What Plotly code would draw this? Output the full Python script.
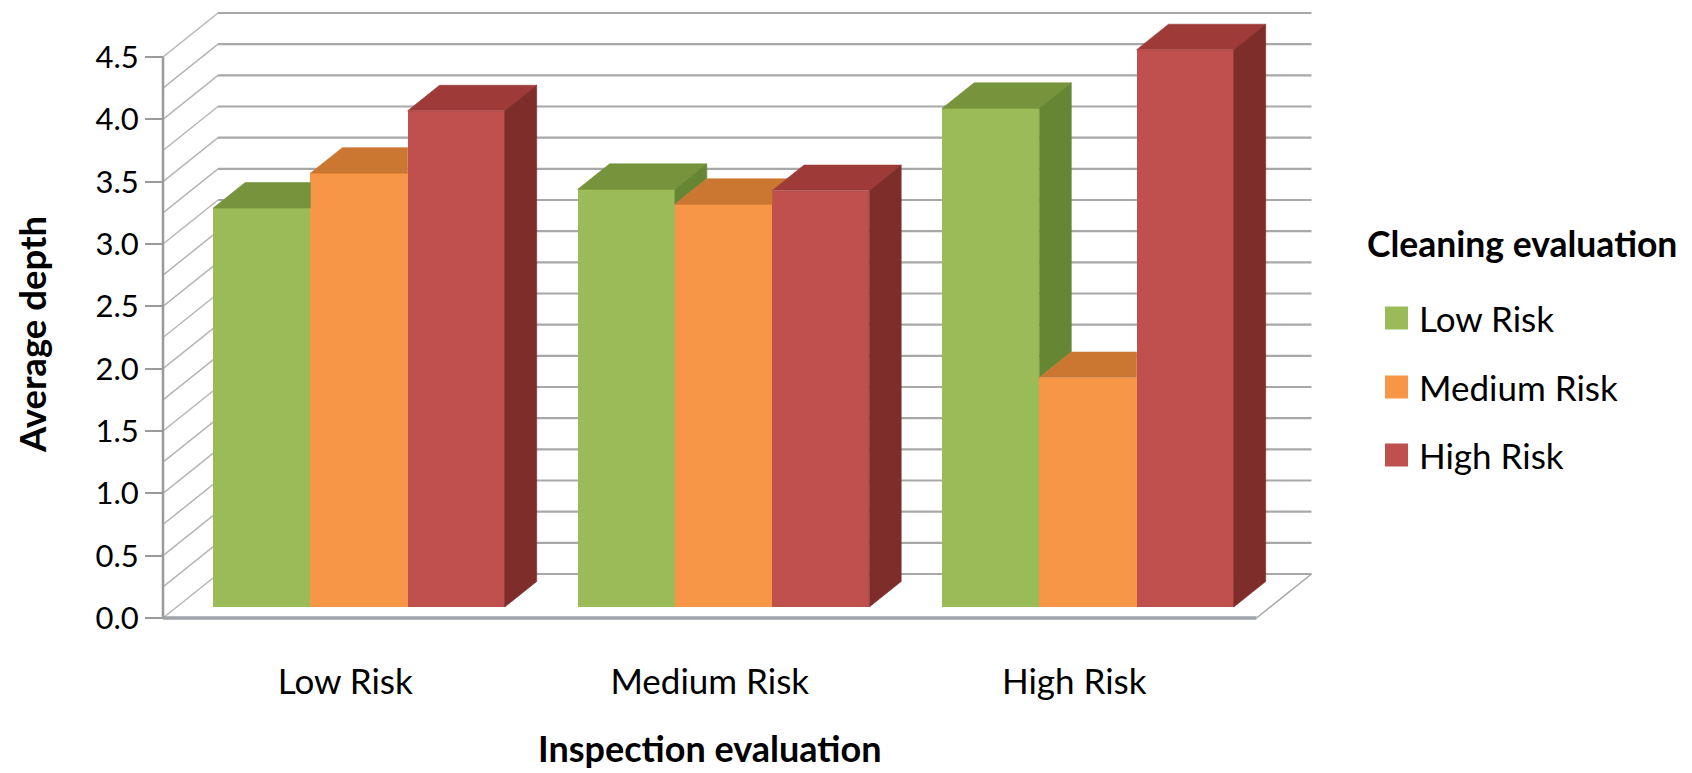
import plotly.graph_objects as go

# ---- data -------------------------------------------------------------
categories = ["Low Risk", "Medium Risk", "High Risk"]          # inspection evaluation
series_names = ["Low Risk", "Medium Risk", "High Risk"]        # cleaning evaluation
low_risk = [3.20, 3.35, 4.00]
medium_risk = [3.48, 3.23, 1.84]
high_risk = [3.98, 3.34, 4.47]
y_tick_values = [0.0, 0.5, 1.0, 1.5, 2.0, 2.5, 3.0, 3.5, 4.0, 4.5]
y_tick_labels = ["0.0", "0.5", "1.0", "1.5", "2.0", "2.5", "3.0", "3.5", "4.0", "4.5"]

series_values = [low_risk, medium_risk, high_risk]

# ---- styling ----------------------------------------------------------
FONT = "Lato, 'Open Sans', sans-serif"
front_colors = ["#9BBB59", "#F79646", "#C0504D"]
top_colors = ["#77933C", "#CB7631", "#9E3B39"]
side_colors = ["#678634", "#B5652A", "#7E2D2B"]
GRID_COLOR = "#A8A8A8"

# figure geometry (pixels)
W, H = 1692, 773
PLOT_L, PLOT_R, PLOT_T, PLOT_B = 150, 1320, 10, 660
AXIS_PX = 163            # front-left corner of the floor
FLOOR_PX = 618           # front edge of the floor (value 0)
PX_PER_CAT = 364.5
PX_PER_VAL = 124.67

# oblique 3-D projection, expressed in axis units
DEPTH_X = 55 / PX_PER_CAT          # full depth of the box, horizontal shift
DEPTH_Y = 44 / PX_PER_VAL          # full depth of the box, vertical shift
BAR_FRONT, BAR_BACK = 0.25, 0.83   # where the columns sit inside the depth
BAR_W = 0.8 / 3                    # three touching columns per category
GRID_STEP = 0.25
Y_MAX = 4.5

x_range = [(PLOT_L - AXIS_PX) / PX_PER_CAT, (PLOT_R - AXIS_PX) / PX_PER_CAT]
y_range = [-(PLOT_B - FLOOR_PX) / PX_PER_VAL, (FLOOR_PX - PLOT_T) / PX_PER_VAL]

fig = go.Figure()

# ---- walls and floor (drawn beneath the columns) -------------------------
shapes = []
n_grid = int(round(Y_MAX / GRID_STEP))
for k in range(n_grid + 1):
    v = k * GRID_STEP
    # back wall gridline
    shapes.append(dict(type="line", layer="below", xref="x", yref="y",
                       x0=DEPTH_X, y0=v + DEPTH_Y, x1=len(categories) + DEPTH_X, y1=v + DEPTH_Y,
                       line=dict(color=GRID_COLOR, width=2.2)))
    # side wall gridline
    shapes.append(dict(type="line", layer="below", xref="x", yref="y",
                       x0=0, y0=v, x1=DEPTH_X, y1=v + DEPTH_Y,
                       line=dict(color="#B4B4B4", width=1.5)))
# floor front edge and right edge
shapes.append(dict(type="line", layer="below", xref="x", yref="y",
                   x0=0, y0=0, x1=len(categories), y1=0,
                   line=dict(color="#9FA4AA", width=3.5)))
shapes.append(dict(type="line", layer="below", xref="x", yref="y",
                   x0=len(categories), y0=0, x1=len(categories) + DEPTH_X, y1=DEPTH_Y,
                   line=dict(color="#A8A8A8", width=1.6)))
# value axis line
shapes.append(dict(type="line", layer="below", xref="x", yref="y",
                   x0=0, y0=0, x1=0, y1=Y_MAX,
                   line=dict(color="#9A9A9A", width=2.5)))

# ---- columns ---------------------------------------------------------
ddx = (BAR_BACK - BAR_FRONT) * DEPTH_X
ddy = (BAR_BACK - BAR_FRONT) * DEPTH_Y
base = BAR_FRONT * DEPTH_Y
shift = BAR_FRONT * DEPTH_X


def bar_center(ci, si):
    return ci + 0.5 + (si - 1) * BAR_W + shift


# front faces
for si, (name, vals) in enumerate(zip(series_names, series_values)):
    fig.add_trace(go.Bar(
        x=[bar_center(ci, si) for ci in range(len(categories))],
        y=vals, base=[base] * len(vals), width=BAR_W,
        name=name, marker=dict(color=front_colors[si], line=dict(width=0)),
        showlegend=False, hovertemplate=name + ": %{y:.2f}<extra></extra>",
    ))


def poly(xs, ys, color):
    fig.add_trace(go.Scatter(
        x=xs + [xs[0]], y=ys + [ys[0]], mode="lines", fill="toself",
        fillcolor=color, line=dict(color=color, width=0.6),
        hoverinfo="skip", showlegend=False,
    ))


# top and side faces, trimmed where the neighbouring column hides them
for ci in range(len(categories)):
    for si in range(len(series_names)):
        v = series_values[si][ci]
        xc = bar_center(ci, si)
        L, R = xc - BAR_W / 2, xc + BAR_W / 2
        yb, yt = base, base + v
        nxt = series_values[si + 1][ci] if si + 1 < len(series_names) else None

        # top face
        if nxt is None or nxt <= v:
            poly([L, R, R + ddx, L + ddx], [yt, yt, yt + ddy, yt + ddy], top_colors[si])
        else:
            yc = min(base + nxt, yt + ddy)
            t = (yt + ddy - yc) / ddy
            poly([L, R, R, R + ddx * t, L + ddx],
                 [yt, yt, yc, yt + ddy, yt + ddy], top_colors[si])

        # right-hand side face
        if nxt is None:
            poly([R, R, R + ddx, R + ddx], [yb, yt, yt + ddy, yb + ddy], side_colors[si])
        elif v > nxt:
            yn = base + nxt
            poly([R, R, R + ddx, R + ddx], [yn, yt, yt + ddy, yn + ddy], side_colors[si])


# ---- titles and legend -------------------------------------------------
def paper_x(px):
    return (px - PLOT_L) / (PLOT_R - PLOT_L)


def paper_y(py):
    return (PLOT_B - py) / (PLOT_B - PLOT_T)


annotations = [
    dict(text="Inspection evaluation", xref="x", yref="paper",
         x=len(categories) / 2, y=paper_y(748), xanchor="center", yanchor="middle",
         showarrow=False, font=dict(family=FONT, size=36, color="#000000", weight="bold")),
    dict(text="Average depth", xref="paper", yref="paper", textangle=-90,
         x=paper_x(32), y=paper_y(335), xanchor="center", yanchor="middle",
         showarrow=False, font=dict(family=FONT, size=36.5, color="#000000", weight="bold")),
    dict(text="Cleaning evaluation", xref="paper", yref="paper",
         x=paper_x(1365), y=paper_y(243), xanchor="left", yanchor="middle",
         showarrow=False, font=dict(family=FONT, size=35.5, color="#000000", weight="bold")),
]
legend_rows = [318, 387, 455]
for si, name in enumerate(series_names):
    cy = legend_rows[si]
    shapes.append(dict(type="rect", xref="paper", yref="paper",
                       x0=paper_x(1385), x1=paper_x(1408),
                       y0=paper_y(cy + 11.5), y1=paper_y(cy - 11.5),
                       fillcolor=front_colors[si], line=dict(width=0)))
    annotations.append(dict(
        text=name, xref="paper", yref="paper",
        x=paper_x(1417), y=paper_y(cy), xanchor="left", yanchor="middle",
        showarrow=False, font=dict(family=FONT, size=35, color="#000000"),
    ))

fig.update_layout(
    width=W, height=H,
    margin=dict(l=PLOT_L, r=W - PLOT_R, t=PLOT_T, b=H - PLOT_B, autoexpand=False),
    paper_bgcolor="white", plot_bgcolor="white",
    barmode="overlay", bargap=0,
    shapes=shapes, annotations=annotations,
    font=dict(family=FONT, color="#000000"),
    xaxis=dict(
        range=x_range, tickvals=[i + 0.5 for i in range(len(categories))],
        ticktext=categories, showgrid=False, zeroline=False, showline=False,
        ticks="", tickfont=dict(family=FONT, size=35, color="#000000"),
        ticklabelstandoff=-2,
        fixedrange=True,
    ),
    yaxis=dict(
        range=y_range, anchor="free", position=paper_x(AXIS_PX),
        tickvals=y_tick_values, ticktext=y_tick_labels,
        showgrid=False, zeroline=False, showline=False,
        ticks="outside", ticklen=18, tickwidth=2, tickcolor="#9A9A9A",
        tickfont=dict(family=FONT, size=31, color="#000000"),
        fixedrange=True,
    ),
)

fig.write_html("out.html")
